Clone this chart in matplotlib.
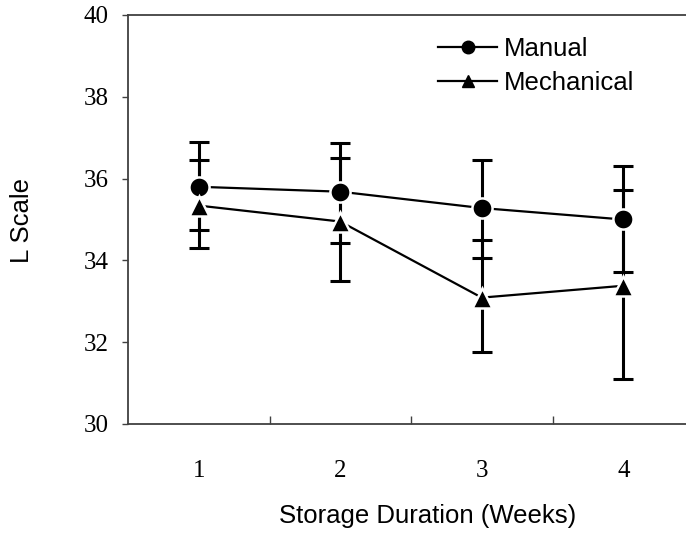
import matplotlib
matplotlib.use("Agg")
import matplotlib.pyplot as plt
from matplotlib.lines import Line2D

weeks = [1, 2, 3, 4]
week_labels = ["1", "2", "3", "4"]

manual_mean = [35.80, 35.68, 35.28, 35.00]
manual_err_hi = [1.09, 1.18, 1.17, 1.31]
manual_err_lo = [1.05, 1.25, 1.22, 1.29]

mech_mean = [35.34, 34.95, 33.09, 33.38]
mech_err_hi = [1.11, 1.56, 1.40, 2.34]
mech_err_lo = [1.04, 1.45, 1.34, 2.28]

yticks = [30, 32, 34, 36, 38, 40]

fig = plt.figure(figsize=(6.86, 5.33), dpi=100)
ax = fig.add_axes([128/686, 109/533, 1 - 128/686, (424-15)/533])

sans = "Liberation Sans"
serif = "Liberation Serif"

for mean, lo, hi, mk, ms in [(manual_mean, manual_err_lo, manual_err_hi, "o", 14.5),
                              (mech_mean, mech_err_lo, mech_err_hi, "^", 14)]:
    ax.errorbar(weeks, mean, yerr=[lo, hi], fmt="none", ecolor="black",
                elinewidth=2.2, capsize=7, capthick=2.2, zorder=2)
    ax.plot(weeks, mean, color="black", lw=1.6, marker=mk, markersize=ms,
            markerfacecolor="black", markeredgecolor="white", markeredgewidth=1.8,
            zorder=3)

ax.set_xlim(0.5, 0.5 + (686 - 128) / 141.5)
ax.set_ylim(30, 40)
ax.set_yticks(yticks)
ax.set_yticklabels([str(v) for v in yticks], fontfamily=serif, fontsize=18)
ax.set_xticks(weeks)
ax.set_xticklabels(week_labels, fontfamily=serif, fontsize=18)
ax.set_xticks([1.5, 2.5, 3.5], minor=True)
ax.tick_params(axis="x", which="major", length=0, pad=26)
ax.tick_params(axis="x", which="minor", direction="in", length=6, width=1, color="#404040")
ax.tick_params(axis="y", which="major", direction="out", length=4, width=1,
               color="#404040", pad=10)

for s in ["left", "bottom", "top"]:
    ax.spines[s].set_color("#404040")
    ax.spines[s].set_linewidth(1.3)
ax.spines["right"].set_visible(False)

fig.text(428/686, 1 - 516/533, "Storage Duration (Weeks)", fontfamily=sans,
         fontsize=18.5, ha="center", va="center")
fig.text(22/686, 1 - 221/533, "L Scale", fontfamily=sans, fontsize=18.5,
         rotation=90, ha="center", va="center")

handles = [Line2D([], [], color="black", lw=1.6, marker="o", markersize=9),
           Line2D([], [], color="black", lw=1.6, marker="^", markersize=8)]
leg = fig.legend(handles, ["Manual", "Mechanical"], loc="upper left",
                 bbox_to_anchor=(438/686, 1 - 37/533), frameon=False,
                 prop={"family": sans, "size": 18.5}, handlelength=2.3,
                 handletextpad=0.25, labelspacing=0.4, borderpad=0, borderaxespad=0)

fig.savefig("out.png", dpi=100)
